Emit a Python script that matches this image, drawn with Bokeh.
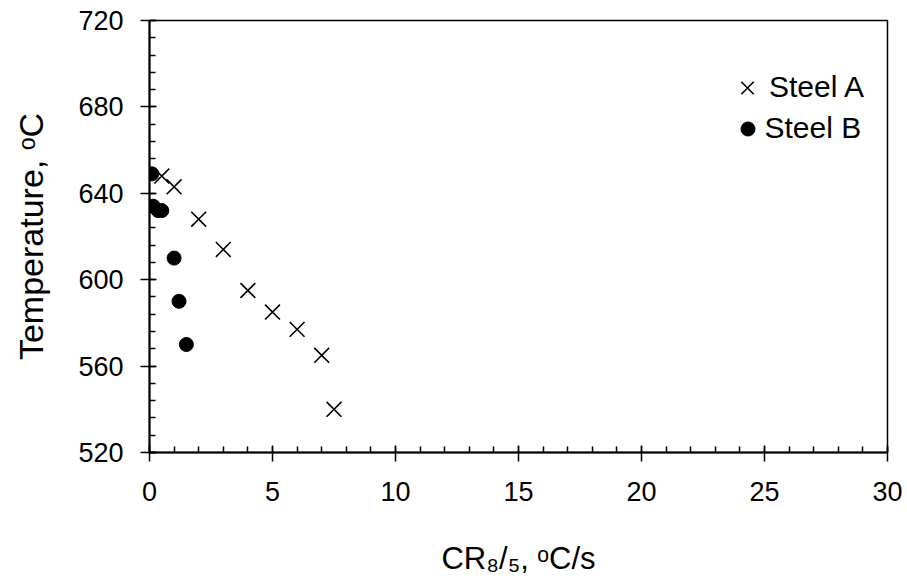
from bokeh.plotting import figure
from bokeh.models import Legend, LegendItem, Range1d, SingleIntervalTicker
from bokeh.embed import file_html
from bokeh.resources import INLINE

# ---- data ----
steel_a_cr = [0.5, 1.0, 2.0, 3.0, 4.0, 5.0, 6.0, 7.0, 7.5]
steel_a_t = [648, 643, 628, 614, 595, 585, 577, 565, 540]
steel_b_cr = [0.1, 0.15, 0.35, 0.5, 1.0, 1.2, 1.5]
steel_b_t = [649, 634, 632, 632, 610, 590, 570]
series_names = ["Steel A", "Steel B"]
x_title = "CR\u2088/\u2085, \u1d52C/s"
y_title = "Temperature, \u1d52C"

FONT = "Liberation Sans"

p = figure(width=907, height=583, output_backend="svg", toolbar_location=None,
           x_range=Range1d(0, 30), y_range=Range1d(520, 720),
           min_border_left=149, min_border_right=20, min_border_top=20,
           min_border_bottom=131)
p.background_fill_color = "white"
p.border_fill_color = "white"
p.outline_line_color = "black"
p.outline_line_width = 1.5
p.xgrid.visible = False
p.ygrid.visible = False

ra = p.scatter(steel_a_cr, steel_a_t, marker="x", size=21, line_color="black",
               line_width=1.6)
rb = p.scatter(steel_b_cr, steel_b_t, marker="circle", size=14, fill_color="black",
               line_color="black")

p.xaxis.ticker = SingleIntervalTicker(interval=5, num_minor_ticks=5)
p.yaxis.ticker = SingleIntervalTicker(interval=40, num_minor_ticks=5)
for ax in (p.xaxis[0], p.yaxis[0]):
    ax.axis_line_width = 2
    ax.axis_line_color = "black"
    ax.major_tick_line_color = "black"
    ax.minor_tick_line_color = "black"
    ax.major_tick_line_width = 1.5
    ax.minor_tick_line_width = 1.5
    ax.major_tick_in = 7
    ax.major_tick_out = 9
    ax.minor_tick_in = 6
    ax.minor_tick_out = 0
    ax.major_label_text_font = FONT
    ax.major_label_text_font_size = "27px"
    ax.major_label_text_color = "black"
    ax.axis_label_text_font = FONT
    ax.axis_label_text_font_style = "normal"
    ax.axis_label_text_color = "black"
p.xaxis.axis_label_text_font_size = "31px"
p.yaxis.axis_label_text_font_size = "34px"
p.yaxis.major_label_standoff = 17
p.xaxis.major_label_standoff = 20
p.xaxis.axis_label = x_title
p.yaxis.axis_label = y_title
p.xaxis.axis_label_standoff = 37
p.yaxis.axis_label_standoff = 25

common = dict(orientation="vertical", border_line_color=None,
              background_fill_alpha=0, padding=0, margin=0, spacing=0,
              label_standoff=0, label_text_font=FONT,
              label_text_font_size="30px", label_text_color="black")
legend_a = Legend(items=[LegendItem(label=series_names[0], renderers=[ra])],
                  location=(576, 338.5), glyph_width=44, glyph_height=53,
                  label_height=53, **common)
legend_b = Legend(items=[LegendItem(label=series_names[1], renderers=[rb])],
                  location=(580.5, 306.5), glyph_width=35, glyph_height=35,
                  label_height=35, **common)
p.add_layout(legend_a, "center")
p.add_layout(legend_b, "center")

open("out.html", "w").write(file_html(p, INLINE))
